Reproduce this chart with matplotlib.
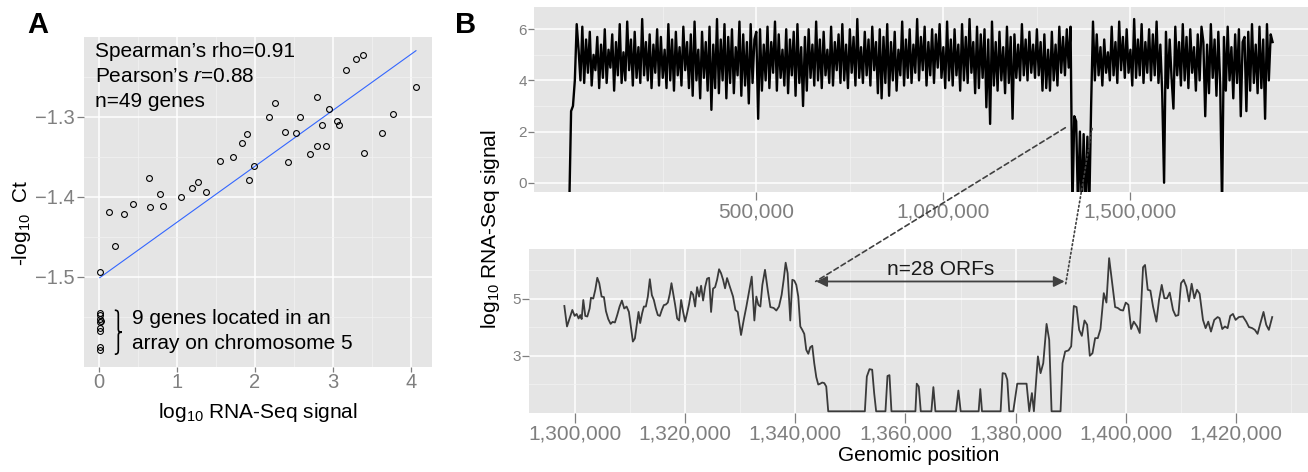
import numpy as np
import matplotlib.pyplot as plt
from matplotlib.patches import ConnectionPatch, PathPatch
from matplotlib.path import Path
from matplotlib.ticker import StrMethodFormatter

plt.rcParams['font.family'] = ['Liberation Sans', 'DejaVu Sans']
plt.rcParams['mathtext.fontset'] = 'custom'
plt.rcParams['mathtext.rm'] = 'Liberation Sans'
plt.rcParams['mathtext.it'] = 'Liberation Sans:italic'

# ---- panel A: qPCR (-log10 Ct) vs RNA-Seq signal ----
rna_seq = [0.017, 0.137, 0.205, 0.329, 0.444, 0.637, 0.662, 0.778, 0.825, 1.047,
           1.188, 1.274, 1.372, 1.547, 1.718, 1.829, 1.893, 1.927, 1.987, 2.179,
           2.261, 2.385, 2.427, 2.530, 2.573, 2.705, 2.795, 2.799, 2.855, 2.915,
           2.944, 3.051, 3.081, 3.171, 3.295, 3.389, 3.397, 3.628, 3.769, 4.064]
neg_log_ct = [-1.494, -1.419, -1.462, -1.422, -1.409, -1.376, -1.413, -1.397, -1.412, -1.400,
              -1.389, -1.381, -1.394, -1.355, -1.350, -1.333, -1.321, -1.379, -1.362, -1.300,
              -1.283, -1.319, -1.356, -1.320, -1.300, -1.347, -1.275, -1.337, -1.310, -1.337,
              -1.290, -1.305, -1.310, -1.241, -1.227, -1.222, -1.345, -1.320, -1.297, -1.263]
# 9 genes of the chromosome 5 array
array_x = [0.013, 0.020, 0.013, 0.026, 0.013, 0.013, 0.020, 0.013, 0.020]
array_y = [-1.545, -1.548, -1.553, -1.555, -1.557, -1.564, -1.568, -1.588, -1.592]

# ---- panel B top: whole chromosome, 5 kb bins (values below 0 = empty bins) ----
chrom_step = 5000
chrom_signal = [
    -1, 2.8, 3.0, 4.0, 6.2,
    5.2, 4.0, 6.1, 3.9, 5.6, 4.3, 5.9, 3.8, 5.0, 4.4, 5.7, 3.7, 5.4, 4.1, 6.0, 3.9, 5.2, 4.5, 5.8, 3.6,
    5.5, 4.2, 6.2, 3.9, 5.1, 4.0, 6.3, 4.4, 5.6, 3.8, 5.9, 4.1, 5.3, 3.9, 6.4, 4.2, 5.5, 4.0, 5.8, 3.7,
    5.4, 4.3, 6.0, 3.8, 5.7, 4.1, 5.2, 3.7, 6.2, 4.0, 5.6, 3.6, 5.9, 4.2, 5.3, 3.8, 6.1, 4.4, 5.5, 3.7,
    5.8, 3.4, 6.3, 4.0, 5.2, 3.3, 5.9, 4.1, 5.5, 3.6, 6.1, 2.85, 5.4, 3.7, 6.4, 3.5, 5.6, 4.0, 6.2, 3.3,
    5.7, 3.9, 6.0, 3.5, 5.3, 4.2, 6.3, 3.4, 5.8, 3.8, 5.5, 3.1, 6.2, 3.9, 5.6, 5.9, 2.5, 6.0, 3.6, 5.4,
    4.0, 6.1, 3.7, 5.5, 4.3, 6.3, 3.6, 5.8, 4.1, 5.2, 3.8, 6.0, 3.5, 5.6, 4.2, 5.9, 3.4, 6.2, 3.9, 5.3,
    3.0, 5.7, 3.6, 6.0, 4.1, 5.4, 3.8, 6.3, 4.0, 5.6, 3.7, 5.9, 4.2, 5.2, 3.9, 6.1, 3.8, 5.5, 4.4, 5.8,
    3.9, 6.2, 4.0, 5.4, 3.7, 6.0, 4.3, 5.7, 3.8, 6.4, 4.1, 5.3, 3.9, 5.9, 4.2, 5.6, 3.8, 6.1, 4.4, 5.5,
    3.5, 6.0, 3.3, 5.7, 3.9, 6.2, 3.4, 5.5, 4.0, 5.9, 3.6, 5.2, 4.2, 6.3, 3.8, 5.6, 4.1, 6.0, 3.9, 5.4,
    4.3, 6.4, 4.0, 5.7, 4.4, 6.1, 3.8, 5.5, 4.2, 6.0, 3.9, 5.8, 4.5, 6.2, 4.1, 5.3, 3.7, 6.3, 4.0, 5.6,
    3.8, 6.0, 4.2, 5.4, 3.6, 6.2, 4.0, 5.7, 3.9, 6.4, 4.3, 5.5, 3.5, 6.1, 3.7, 5.8, 4.1, 6.0, 2.95, 5.6,
    2.3, 6.3, 3.8, 5.5, 3.6, 5.9, 4.0, 5.3, 3.5, 6.1, 3.9, 5.7, 2.5, 5.8, 4.1, 5.4, 4.0, 6.2, 4.2, 5.6,
    4.0, 5.9, 4.3, 5.4, 4.1, 6.0, 4.2, 5.5, 3.6, 5.8, 3.7, 5.2, 3.6, 5.9, 4.0, 5.4, 3.8, 6.1, 4.3, 5.7,
    4.2, 6.0, 4.5, 6.1,
    -1, 2.6, 2.4, -1, 2.0, -1, 1.9, -1, 1.8, -1, 3.0, 6.3,
    4.0, 5.8, 4.2, 5.3, 3.8, 5.6, 4.3, 5.1, 4.0, 6.1, 4.2, 5.5, 3.9, 6.3, 4.4, 5.7, 4.1, 6.0, 4.3, 5.2,
    3.8, 6.4, 4.1, 5.6, 4.2, 6.2, 3.9, 5.5, 4.3, 6.0, 4.0, 5.8, 4.2, 6.3, 3.9, 5.4, 3.5, 0.0, 5.9, 3.7,
    5.6, 4.1, 2.9, 6.1, 4.2, 5.5, 3.8, 6.2, 4.0, 5.7, 3.7, 6.0, 4.3, 5.3, 3.6, 5.8, 4.0, 6.1, 5.5, 2.6,
    5.4, 3.5, 6.2, 4.1, 5.6, 3.4, 5.9, 3.8, -1, 5.7, 3.6, 6.1, 4.0, 5.3, 3.3, 5.8, 3.9, 6.0, 2.6, 5.5,
    5.7, 2.8, 5.9, 3.6, 6.2, 3.9, 5.4, 3.5, 6.1, 3.7, 5.6, 2.5, 6.2, 4.0, 5.8, 5.5,
]

# ---- panel B bottom: zoom on the array region ----
zoom_pos = [
    1298070, 1298550, 1299090, 1299520, 1299940, 1300300, 1300660, 1300970, 1301210, 1301510,
    1301870, 1302240, 1302660, 1302900, 1303320, 1303690, 1304050, 1304410, 1304830, 1305260,
    1305620, 1306040, 1306470, 1306830, 1307250, 1307670, 1308100, 1308520, 1308940, 1309370,
    1309790, 1310150, 1310510, 1310880, 1311180, 1311540, 1311840, 1312200, 1312510, 1312870,
    1313230, 1313590, 1313960, 1314320, 1314680, 1315040, 1315410, 1315770, 1316130, 1316490,
    1316860, 1317220, 1317520, 1317820, 1318190, 1318550, 1318910, 1319270, 1319640, 1320000,
    1320360, 1320720, 1321090, 1321450, 1321810, 1322170, 1322540, 1322900, 1323260, 1323620,
    1323990, 1324350, 1324710, 1325070, 1325440, 1325800, 1326160, 1326520, 1326890, 1327250,
    1327610, 1328700, 1329120, 1329550, 1330150, 1330640, 1331120, 1331600, 1332090, 1332570,
    1332930, 1333290, 1333660, 1334020, 1334500, 1334990, 1335470, 1336070, 1336560, 1337040,
    1337520, 1337890, 1338250, 1338610, 1339090, 1339460, 1339820, 1340180, 1340540, 1340910,
    1341270, 1341630, 1341990, 1342360, 1342720, 1343080, 1343440, 1343810, 1344170, 1344530,
    1344890, 1345260, 1345620, 1345980, 1352630, 1352990, 1353470, 1353960, 1354320, 1354680,
    1356370, 1356740, 1357100, 1357460, 1361810, 1362050, 1362420, 1362780, 1364710, 1365070,
    1365440, 1369180, 1369610, 1370030, 1373290, 1373590, 1373900, 1377280, 1377640, 1378130,
    1378490, 1378850, 1379570, 1380300, 1381990, 1382480, 1382960, 1383320, 1384050, 1384530,
    1385020, 1385620, 1386100, 1386530, 1388160, 1388520, 1389000, 1389610, 1390090, 1390570,
    1391060, 1391540, 1392020, 1392510, 1392990, 1393470, 1393960, 1394440, 1394920, 1395410,
    1396010, 1396490, 1396980, 1397460, 1398070, 1398550, 1399030, 1399520, 1400000, 1400480,
    1400970, 1401450, 1402050, 1402540, 1403140, 1403500, 1403990, 1404470, 1404950, 1405560,
    1406040, 1406530, 1407010, 1407490, 1407980, 1408580, 1409060, 1409550, 1410030, 1410510,
    1411000, 1411480, 1411960, 1412450, 1412930, 1413410, 1414020, 1414500, 1414980, 1415470,
    1416070, 1416680, 1417040, 1417520, 1418010, 1418490, 1418970, 1419460, 1419940, 1420540,
    1421270, 1421870, 1422360, 1422960, 1423440, 1423930, 1424410, 1425010, 1425500, 1425980,
    1426590,
]
zoom_signal = [
    4.75, 4.03, 4.36, 4.61, 4.40, 4.47, 4.31, 4.43, 4.29, 4.96,
    4.40, 4.38, 4.66, 5.04, 5.01, 5.32, 5.74, 5.55, 5.08, 5.06,
    4.57, 4.29, 4.12, 4.19, 4.17, 4.43, 4.73, 4.94, 4.66, 4.73,
    4.54, 4.03, 3.50, 3.61, 4.03, 4.54, 4.15, 4.50, 4.73, 4.73,
    5.08, 5.69, 5.13, 4.96, 4.66, 4.43, 4.40, 4.61, 4.78, 4.80,
    4.87, 5.18, 5.55, 5.20, 4.78, 4.31, 4.24, 4.96, 4.54, 4.20,
    4.50, 4.82, 5.25, 5.15, 4.73, 5.41, 5.08, 5.46, 4.94, 5.41,
    5.71, 5.74, 4.54, 5.36, 5.41, 5.67, 6.04, 5.90, 5.67, 5.37,
    5.73, 5.08, 4.61, 4.54, 3.73, 4.26, 4.73, 5.26, 5.78, 4.24,
    5.08, 4.79, 4.73, 5.49, 6.02, 5.32, 4.71, 4.68, 4.59, 4.73,
    5.14, 5.67, 6.27, 5.90, 4.24, 5.67, 5.64, 5.49, 5.08, 4.03,
    3.91, 3.77, 3.21, 3.07, 3.30, 3.35, 2.74, 2.25, 1.99, 2.02,
    2.06, 2.04, 1.92, 1.05, 1.05, 2.27, 2.53, 2.51, 1.69, 1.05,
    1.05, 2.29, 2.32, 1.05, 1.05, 2.02, 1.92, 1.05, 1.05, 1.90,
    1.05, 1.05, 1.78, 1.05, 1.05, 1.83, 1.05, 1.05, 2.39, 2.37,
    2.16, 1.05, 1.05, 2.02, 2.02, 1.05, 1.69, 1.05, 2.98, 2.39,
    2.74, 4.12, 3.56, 1.05, 1.05, 2.74, 3.15, 3.19, 3.33, 4.75,
    4.71, 3.91, 3.70, 4.24, 4.09, 3.00, 3.09, 3.62, 3.62, 3.94,
    5.20, 4.87, 6.43, 5.67, 4.71, 4.68, 4.61, 4.59, 4.87, 4.79,
    3.94, 4.20, 4.03, 3.80, 6.11, 6.19, 5.32, 5.29, 4.73, 4.20,
    4.96, 5.49, 5.02, 5.02, 5.22, 4.61, 4.40, 4.43, 5.55, 5.67,
    5.43, 4.91, 5.53, 5.02, 5.32, 5.18, 4.26, 3.97, 4.20, 3.85,
    4.26, 4.36, 4.32, 3.94, 4.03, 3.97, 4.40, 4.47, 4.26, 4.36,
    4.38, 4.20, 4.01, 3.97, 3.91, 3.77, 4.12, 4.54, 4.09, 3.91,
    4.36,
]

# array boundaries (arrow) and the region shown in the zoom
orf_left, orf_right, orf_level = 1343800, 1388900, 5.61
link_top = [(1326000, 2.15), (1397500, 2.12)]
link_bottom = [(1343700, 5.61), (1389100, 5.53)]

GREY_BG = '#E5E5E5'
TICK_GREY = '#7F7F7F'


def gg_style(ax, xmaj, xmin, ymaj, ymin):
    ax.set_facecolor(GREY_BG)
    for s in ax.spines.values():
        s.set_visible(False)
    ax.set_xticks(xmaj)
    ax.set_xticks(xmin, minor=True)
    ax.set_yticks(ymaj)
    ax.set_yticks(ymin, minor=True)
    ax.grid(which='major', color='white', lw=1.1)
    ax.grid(which='minor', color='#F2F2F2', lw=0.55)
    ax.set_axisbelow(True)
    ax.tick_params(which='major', color=TICK_GREY, labelcolor=TICK_GREY, width=0.9)
    ax.tick_params(which='minor', length=0)


def right_brace(ax, x0, w, ytop, ybot):
    h = ytop - ybot
    mid = (ytop + ybot) / 2
    xm = x0 + 0.5 * w
    verts = [(x0, ytop), (xm, ytop), (xm, ytop - 0.04 * h), (xm, ytop - 0.12 * h),
             (xm, mid + 0.08 * h),
             (xm, mid + 0.02 * h), (x0 + 0.6 * w, mid), (x0 + w, mid),
             (x0 + 0.6 * w, mid), (xm, mid - 0.02 * h), (xm, mid - 0.08 * h),
             (xm, ybot + 0.12 * h),
             (xm, ybot + 0.04 * h), (xm, ybot), (x0, ybot)]
    codes = [Path.MOVETO, Path.CURVE4, Path.CURVE4, Path.CURVE4, Path.LINETO,
             Path.CURVE4, Path.CURVE4, Path.CURVE4, Path.CURVE4, Path.CURVE4, Path.CURVE4,
             Path.LINETO, Path.CURVE4, Path.CURVE4, Path.CURVE4]
    ax.add_patch(PathPatch(Path(verts, codes), fc='none', ec='black', lw=1.2))


fig = plt.figure(figsize=(13.08, 4.72), dpi=100)

# ---------------- panel A ----------------
axA = fig.add_axes([0.0642, 0.2225, 0.2661, 0.6992])
gg_style(axA, [0, 1, 2, 3, 4], [0.5, 1.5, 2.5, 3.5],
         [-1.5, -1.4, -1.3], [-1.55, -1.45, -1.35, -1.25])
all_x = np.array(rna_seq + array_x)
all_y = np.array(neg_log_ct + array_y)
fit = np.polyfit(all_x, all_y, 1)
xs = np.array([all_x.min(), all_x.max()])
axA.plot(xs, np.polyval(fit, xs), color='#3366FF', lw=0.8, zorder=2)
axA.plot(all_x, all_y, 'o', ms=4.2, mfc='none', mec='black', mew=0.8, zorder=3)
axA.set_xlim(-0.19, 4.27)
axA.set_ylim(-1.613, -1.2)
axA.tick_params(axis='x', labelsize=14.5, length=3.5, pad=1)
axA.tick_params(axis='y', labelsize=14.5, length=5, pad=1.5)
axA.set_xlabel('log$_{10}$ RNA-Seq signal', fontsize=15, labelpad=6)
fig.text(21.7 / 1308, 1 - 223 / 472, '-log$_{10}$  Ct', rotation=90,
         ha='center', va='center', fontsize=15)

stats = ['Spearman\u2019s rho=0.91', 'Pearson\u2019s $r$=0.88', 'n=49 genes']
for i, s in enumerate(stats):
    axA.text(0.031, 0.955 - i * 0.0757, s, transform=axA.transAxes,
             fontsize=15, va='center', ha='left')
right_brace(axA, 0.205, 0.09, -1.542, -1.597)
axA.text(0.427, -1.5519, '9 genes located in an', fontsize=15, va='center')
axA.text(0.427, -1.5832, 'array on chromosome 5', fontsize=15, va='center')

# ---------------- panel B, whole chromosome ----------------
axT = fig.add_axes([0.4083, 0.5939, 0.5915, 0.3907])
chrom_pos = np.arange(len(chrom_signal)) * chrom_step
gg_style(axT, [500000, 1000000, 1500000], [250000, 750000, 1250000, 1750000],
         [0, 2, 4, 6], [1, 3, 5])
axT.plot(chrom_pos, chrom_signal, color='black', lw=1.7, solid_joinstyle='round')
span = chrom_pos[-1] - chrom_pos[0]
axT.set_xlim(chrom_pos[0] - 0.05 * span, chrom_pos[-1] + 0.05 * span)
axT.set_ylim(-0.35, 6.86)
axT.xaxis.set_major_formatter(StrMethodFormatter('{x:,.0f}'))
axT.tick_params(axis='x', labelsize=15, length=6, pad=1.5)
axT.tick_params(axis='y', labelsize=11, length=4, pad=1)

# ---------------- panel B, zoom ----------------
axB = fig.add_axes([0.4044, 0.1256, 0.5953, 0.3462])
gg_style(axB, np.arange(1300000, 1420001, 20000), np.arange(1310000, 1430001, 20000),
         [3, 5], [2, 4, 6])
axB.plot(zoom_pos, zoom_signal, color='#3A3A3A', lw=1.3)
span = zoom_pos[-1] - zoom_pos[0]
axB.set_xlim(zoom_pos[0] - 0.05 * span, zoom_pos[-1] + 0.05 * span)
axB.set_ylim(1.0, 6.74)
axB.xaxis.set_major_formatter(StrMethodFormatter('{x:,.0f}'))
axB.tick_params(axis='x', labelsize=15, length=7, pad=1.5)
axB.tick_params(axis='y', labelsize=11, length=5, pad=1)
axB.set_xlabel('Genomic position', fontsize=15, labelpad=2)

axB.annotate('', xy=(orf_left, orf_level), xytext=(orf_right, orf_level),
             arrowprops=dict(arrowstyle='<|-|>', color='#404040', lw=1.3,
                             mutation_scale=16, shrinkA=0, shrinkB=0))
axB.text((orf_left + orf_right) / 2, 6.04, 'n=28 ORFs', fontsize=15,
         ha='center', va='center', color='#1A1A1A')

# dashed links from the whole-chromosome view to the zoom
styles = [(0, (3, 2)), (0, (1, 1.6))]
for (pa, pb, ls) in zip(link_top, link_bottom, styles):
    con = ConnectionPatch(xyA=pa, coordsA=axT.transData, xyB=pb, coordsB=axB.transData,
                          color='#404040', lw=1.2, linestyle=ls)
    fig.add_artist(con)

fig.text(490 / 1308, 1 - 229 / 472, 'log$_{10}$ RNA-Seq signal', rotation=90,
         ha='center', va='center', fontsize=15)

fig.text(27 / 1308, 1 - 33 / 472, 'A', fontsize=21, fontweight='bold', va='baseline')
fig.text(455 / 1308, 1 - 33 / 472, 'B', fontsize=21, fontweight='bold', va='baseline')

fig.savefig('out.png', dpi=100)
